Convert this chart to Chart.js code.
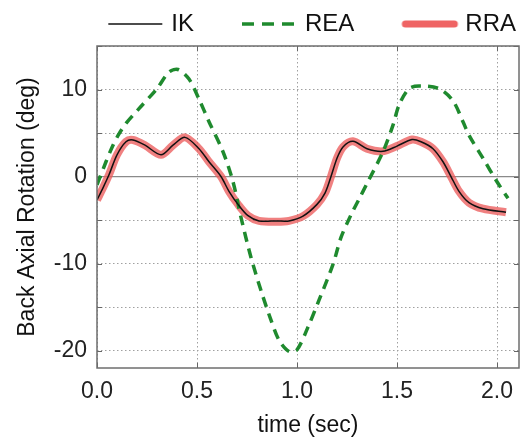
<!DOCTYPE html>
<html>
<head>
<meta charset="utf-8">
<script src="https://cdn.jsdelivr.net/npm/chart.js@4.4.0/dist/chart.umd.min.js"></script>
<style>
  html, body { margin: 0; padding: 0; background: #fff; }
  #wrap { width: 525px; height: 439px; }
</style>
</head>
<body>
<div id="wrap"><canvas id="rotation"></canvas></div>
<script>
// ================================
// DATA
// ================================
const ikTime  = [0.00, 0.03, 0.06, 0.10, 0.145, 0.18, 0.24, 0.32, 0.38, 0.44, 0.51, 0.56, 0.62, 0.66, 0.705, 0.755, 0.81, 0.90, 0.96,
                 1.03, 1.10, 1.14, 1.17, 1.20, 1.23, 1.28, 1.35, 1.43, 1.50, 1.575, 1.62, 1.68, 1.73, 1.77, 1.81, 1.86, 1.93, 2.045];
const ikAngle = [-2.7, -1.3, 0.2, 2.5, 4.0, 4.2, 3.6, 2.5, 3.6, 4.5, 3.2, 1.7, 0.0, -1.7, -3.2, -4.5, -5.1, -5.1, -5.1,
                 -4.55, -3.2, -1.9, 0.0, 2.1, 3.4, 4.05, 3.2, 2.9, 3.5, 4.25, 4.0, 3.2, 1.7, 0.0, -1.7, -3.0, -3.7, -4.1];

const rraTime  = ikTime;
const rraAngle = [-2.7, -1.3, 0.2, 2.5, 4.0, 4.2, 3.6, 2.5, 3.6, 4.5, 3.2, 1.7, 0.0, -1.7, -3.2, -4.5, -5.1, -5.2, -5.1,
                  -4.55, -3.2, -1.9, 0.0, 2.1, 3.4, 4.05, 3.2, 2.9, 3.5, 4.25, 4.0, 3.2, 1.7, 0.0, -1.7, -3.0, -3.7, -4.1];

const reaTime  = [0.00, 0.045, 0.08, 0.11, 0.145, 0.21, 0.30, 0.36, 0.405, 0.46, 0.51, 0.56, 0.63, 0.68, 0.72, 0.77, 0.82, 0.87, 0.91, 0.96, 1.00,
                  1.055, 1.11, 1.18, 1.22, 1.27, 1.31, 1.35, 1.43, 1.48, 1.51, 1.56, 1.61, 1.71, 1.78, 1.83, 1.86, 1.93, 2.00, 2.055];
const reaAngle = [-0.95, 1.7, 3.6, 4.9, 6.1, 7.8, 10.1, 12.0, 12.3, 11.2, 8.9, 6.3, 2.85, -0.6, -4.7, -9.3, -13.1, -16.5, -18.8, -20.1, -19.9,
                  -17.3, -14.2, -10.1, -7.0, -4.4, -2.6, -0.8, 2.85, 5.9, 8.2, 10.1, 10.4, 10.1, 8.7, 6.3, 4.75, 2.1, -0.6, -2.5];

const seriesNames = ["IK", "REA", "RRA"];
const xTickStep = 0.5;
const yTickStep = 5;
const yLabelStep = 10;

function toPoints(xs, ys) {
  return xs.map((x, i) => ({ x: x, y: ys[i] }));
}

// ticks at every multiple of step between min and max
function stepTicks(min, max, step) {
  const out = [];
  for (let v = Math.ceil(min / step - 1e-9) * step; v <= max + 1e-9; v += step) {
    out.push({ value: Math.round(v * 1000) / 1000 });
  }
  return out;
}

// legend sample drawn as a small image (line ends a little left of the text)
function legendSample(color, width, dash, cap) {
  const c = document.createElement("canvas");
  c.width = 112;
  c.height = 12;
  const g = c.getContext("2d");
  g.strokeStyle = color;
  g.lineWidth = width;
  g.lineCap = cap || "butt";
  g.setLineDash(dash);
  g.beginPath();
  g.moveTo(cap === "round" ? 56 : 53, 6);
  g.lineTo(cap === "round" ? 105 : 107, 6);
  g.stroke();
  return c;
}

// ================================
// FRAME / ZERO LINE / INNER TICKS
// ================================
const framePlugin = {
  id: "frame",
  beforeDatasetsDraw(chart) {
    const { ctx, chartArea: a, scales } = chart;
    const x = scales.x, y = scales.y;
    ctx.save();

    // solid zero line
    const y0 = y.getPixelForValue(0);
    ctx.strokeStyle = "#8a8a8a";
    ctx.lineWidth = 1.3;
    ctx.beginPath();
    ctx.moveTo(a.left, y0);
    ctx.lineTo(a.right, y0);
    ctx.stroke();

    // small inward tick marks on every side
    ctx.strokeStyle = "#666";
    ctx.lineWidth = 1;
    const len = 5;
    x.ticks.forEach(t => {
      const px = Math.round(x.getPixelForValue(t.value)) + 0.5;
      ctx.beginPath();
      ctx.moveTo(px, a.bottom); ctx.lineTo(px, a.bottom - len);
      ctx.moveTo(px, a.top); ctx.lineTo(px, a.top + len);
      ctx.stroke();
    });
    y.ticks.forEach(t => {
      const py = Math.round(y.getPixelForValue(t.value)) + 0.5;
      ctx.beginPath();
      ctx.moveTo(a.left, py); ctx.lineTo(a.left + len, py);
      ctx.moveTo(a.right, py); ctx.lineTo(a.right - len, py);
      ctx.stroke();
    });
    ctx.restore();
  },
  afterDraw(chart) {
    const { ctx, chartArea: a } = chart;
    ctx.save();
    ctx.strokeStyle = "#6e6e6e";
    ctx.lineWidth = 1.5;
    ctx.strokeRect(a.left, a.top, a.right - a.left, a.bottom - a.top);
    ctx.restore();
  }
};

// ================================
// BUILD CHART
// ================================
const font = { family: "'Liberation Sans', Arial, sans-serif", size: 23 };
const legendFont = { family: "'Liberation Sans', Arial, sans-serif", size: 24 };

new Chart(document.getElementById("rotation"), {
  type: "line",
  data: {
    datasets: [
      {
        label: seriesNames[0],
        data: toPoints(ikTime, ikAngle),
        borderColor: "#111",
        borderWidth: 1.5,
        pointRadius: 0,
        pointStyle: legendSample("#111", 1.5, []),
        tension: 0.3,
        fill: false
      },
      {
        label: seriesNames[1],
        data: toPoints(reaTime, reaAngle),
        borderColor: "#1f8a2e",
        borderWidth: 3.5,
        borderDash: [10, 7],
        pointRadius: 0,
        pointStyle: legendSample("#1f8a2e", 3.5, [12, 8]),
        tension: 0.3,
        fill: false
      },
      {
        label: seriesNames[2],
        data: toPoints(rraTime, rraAngle),
        borderColor: "rgba(236,92,92,0.78)",
        borderWidth: 8,
        pointRadius: 0,
        pointStyle: legendSample("#ef6464", 7, [], "round"),
        tension: 0.3,
        fill: false
      }
    ]
  },
  options: {
    responsive: true,
    maintainAspectRatio: false,
    animation: false,
    layout: { padding: { top: 9, right: 6, left: 0, bottom: 0 } },
    plugins: {
      legend: {
        position: "top",
        align: "end",
        labels: {
          font: legendFont,
          color: "#111",
          usePointStyle: true,
          pointStyleWidth: 96,
          padding: 3,
          boxHeight: 20
        }
      },
      tooltip: { enabled: false }
    },
    scales: {
      x: {
        type: "linear",
        min: 0,
        max: 2.11,
        afterBuildTicks: s => { s.ticks = stepTicks(s.min, s.max, xTickStep); },
        afterFit: s => { s.height = 71; },
        ticks: {
          font: font,
          color: "#222",
          padding: 10,
          callback: v => Number(v).toFixed(1)
        },
        grid: { color: "#a0a0a0", lineWidth: 1, drawTicks: false },
        border: { display: false, dash: [1.5, 2.5] },
        title: { display: true, text: "time (sec)", font: font, color: "#111", padding: { top: 5, bottom: 0 } }
      },
      y: {
        min: -22,
        max: 15,
        afterBuildTicks: s => { s.ticks = stepTicks(s.min, s.max, yTickStep); },
        afterFit: s => { s.width = 97; },
        ticks: {
          font: font,
          color: "#222",
          padding: 10,
          callback: v => (Math.round(v) % yLabelStep === 0 ? String(v) : "")
        },
        grid: { color: "#a0a0a0", lineWidth: 1, drawTicks: false },
        border: { display: false, dash: [1.5, 2.5] },
        title: { display: true, text: "Back Axial Rotation (deg)", font: font, color: "#111", padding: { top: 14, bottom: 0 } }
      }
    }
  },
  plugins: [framePlugin]
});
</script>
</body>
</html>
